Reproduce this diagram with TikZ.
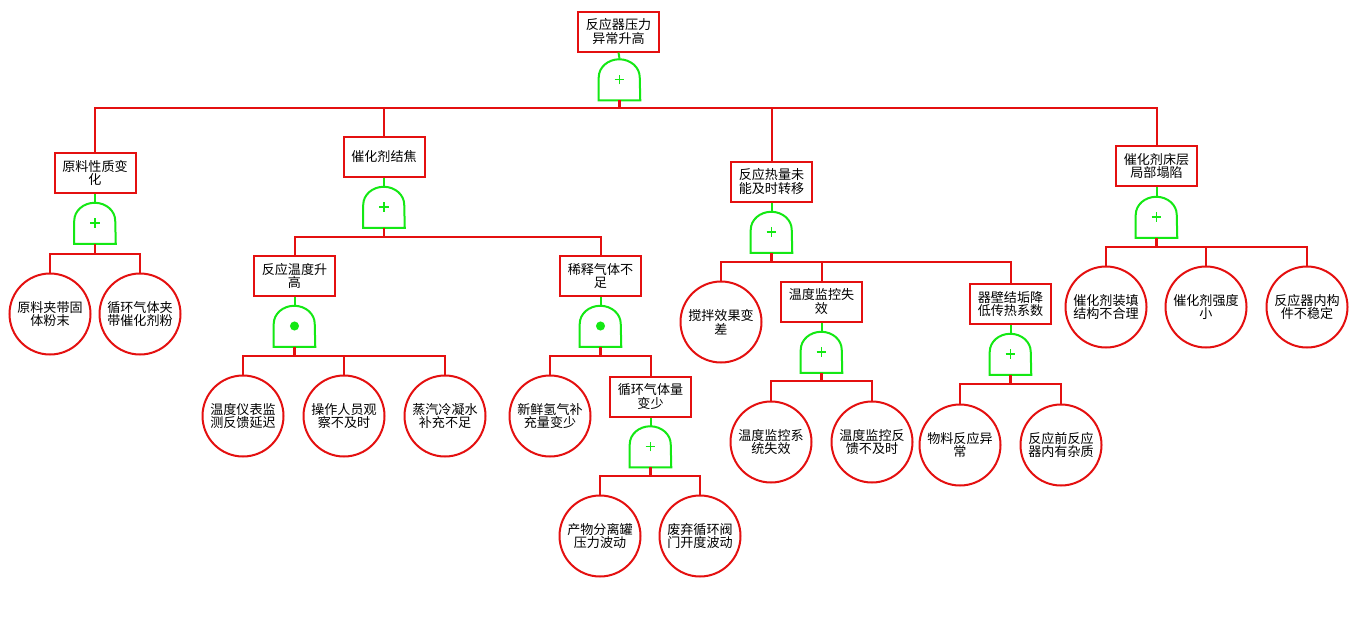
\documentclass[tikz,border=0pt]{standalone}
\usepackage{fontspec}
\setmainfont{Noto Sans CJK SC}
\definecolor{rr}{RGB}{228,16,16}
\definecolor{gg}{RGB}{20,232,20}
\tikzset{
  rl/.style={draw=rr, line width=1.5pt},
  rlt/.style={draw=rr, line width=2.2pt},
  gl/.style={draw=gg, line width=1.5pt},
  evbox/.style={draw=rr, line width=1.5pt, rectangle, minimum width=60.75pt, minimum height=30pt, inner sep=0pt, align=center, font=\fontsize{9.8}{10.2}\selectfont},
  evcirc/.style={draw=rr, line width=1.5pt, circle, minimum size=60.75pt, inner sep=0pt, align=center, font=\fontsize{9.8}{10.2}\selectfont},
  gatebox/.style={rectangle, minimum width=30.75pt, minimum height=30.75pt, inner sep=0pt},
}
\newcommand{\gateshape}[1]{%
  \draw[gl] (#1.south west) -- ([yshift=17.25pt]#1.south west) arc[start angle=180,end angle=0,x radius=15.375pt,y radius=13.5pt] -- (#1.south east) -- cycle;}
\newcommand{\orgate}[2]{%
  \node[gatebox] (#1) at (#2) {};
  \gateshape{#1}
  \draw[draw=gg, line width=1.4pt] ([xshift=-3.6pt]#1.center) -- ([xshift=3.6pt]#1.center) ([yshift=-3.6pt]#1.center) -- ([yshift=3.6pt]#1.center);}
\newcommand{\andgate}[2]{%
  \node[gatebox] (#1) at (#2) {};
  \gateshape{#1}
  \fill[gg] (#1.center) circle[radius=3.4pt];}
\begin{document}
\begin{tikzpicture}[x=0.75pt,y=-0.75pt]
\useasboundingbox (0,0) rectangle (1356,636);
\fill[white] (0,0) rectangle (1356,636);

% top
\node[evbox] (T) at (618.5,31.5) {反应器压力\\异常升高};
\orgate{GT}{619.5,79.5}
\draw[gl] (T.south) -- (GT.north);
\coordinate (jT) at (619.5,108);
\draw[rlt] (GT.south) -- (jT);

% level 1
\node[evbox] (A) at (95,173) {原料性质变\\化};
\node[evbox] (B) at (384,156.5) {催化剂结焦};
\node[evbox] (C) at (771.5,181.5) {反应热量未\\能及时转移};
\node[evbox] (D) at (1156.5,166) {催化剂床层\\局部塌陷};
\foreach \n in {A,B,C,D} \draw[rl] (jT) -| (\n.north);

% A branch
\orgate{GA}{95,223}
\draw[gl] (A.south) -- (GA.north);
\coordinate (jA) at (95,254);
\draw[rlt] (GA.south) -- (jA);
\node[evcirc] (A1) at (50,314) {原料夹带固\\体粉末};
\node[evcirc] (A2) at (140,314) {循环气体夹\\带催化剂粉};
\foreach \n in {A1,A2} \draw[rl] (jA) -| (\n.north);

% B branch
\orgate{GB}{384,207}
\draw[gl] (B.south) -- (GB.north);
\coordinate (jB) at (384,237);
\draw[rlt] (GB.south) -- (jB);
\node[evbox] (B1) at (294.5,276) {反应温度升\\高};
\node[evbox] (B2) at (600.5,276) {稀释气体不\\足};
\foreach \n in {B1,B2} \draw[rl] (jB) -| (\n.north);

\andgate{GB1}{294.5,326}
\draw[gl] (B1.south) -- (GB1.north);
\coordinate (jB1) at (294.5,356);
\draw[rlt] (GB1.south) -- (jB1);
\node[evcirc] (B11) at (243,416) {温度仪表监\\测反馈延迟};
\node[evcirc] (B12) at (344,416) {操作人员观\\察不及时};
\node[evcirc] (B13) at (445,416) {蒸汽冷凝水\\补充不足};
\foreach \n in {B11,B12,B13} \draw[rl] (jB1) -| (\n.north);

\andgate{GB2}{600.5,326}
\draw[gl] (B2.south) -- (GB2.north);
\coordinate (jB2) at (600.5,356);
\draw[rlt] (GB2.south) -- (jB2);
\node[evcirc] (B21) at (550,416) {新鲜氢气补\\充量变少};
\node[evbox] (B22) at (650.5,396.5) {循环气体量\\变少};
\foreach \n in {B21,B22} \draw[rl] (jB2) -| (\n.north);

\orgate{GB22}{650.5,446.5}
\draw[gl] (B22.south) -- (GB22.north);
\coordinate (jB22) at (650.5,476);
\draw[rlt] (GB22.south) -- (jB22);
\node[evcirc] (B221) at (600,536) {产物分离罐\\压力波动};
\node[evcirc] (B222) at (700,536) {废弃循环阀\\门开度波动};
\foreach \n in {B221,B222} \draw[rl] (jB22) -| (\n.north);

% C branch
\orgate{GC}{771.5,232}
\draw[gl] (C.south) -- (GC.north);
\coordinate (jC) at (771.5,262);
\draw[rlt] (GC.south) -- (jC);
\node[evcirc] (C1) at (721,322) {搅拌效果变\\差};
\node[evbox] (C2) at (821.5,301.5) {温度监控失\\效};
\node[evbox] (C3) at (1010.5,304) {器壁结垢降\\低传热系数};
\foreach \n in {C1,C2,C3} \draw[rl] (jC) -| (\n.north);

\orgate{GC2}{821.5,352}
\draw[gl] (C2.south) -- (GC2.north);
\coordinate (jC2) at (821.5,381);
\draw[rlt] (GC2.south) -- (jC2);
\node[evcirc] (C21) at (771,442) {温度监控系\\统失效};
\node[evcirc] (C22) at (872,442) {温度监控反\\馈不及时};
\foreach \n in {C21,C22} \draw[rl] (jC2) -| (\n.north);

\orgate{GC3}{1010.5,354}
\draw[gl] (C3.south) -- (GC3.north);
\coordinate (jC3) at (1010.5,384);
\draw[rlt] (GC3.south) -- (jC3);
\node[evcirc] (C31) at (960,445) {物料反应异\\常};
\node[evcirc] (C32) at (1061,445) {反应前反应\\器内有杂质};
\foreach \n in {C31,C32} \draw[rl] (jC3) -| (\n.north);

% D branch
\orgate{GD}{1156.5,217}
\draw[gl] (D.south) -- (GD.north);
\coordinate (jD) at (1156.5,247);
\draw[rlt] (GD.south) -- (jD);
\node[evcirc] (D1) at (1106,307) {催化剂装填\\结构不合理};
\node[evcirc] (D2) at (1206,307) {催化剂强度\\小};
\node[evcirc] (D3) at (1307,307) {反应器内构\\件不稳定};
\foreach \n in {D1,D2,D3} \draw[rl] (jD) -| (\n.north);
\end{tikzpicture}
\end{document}
